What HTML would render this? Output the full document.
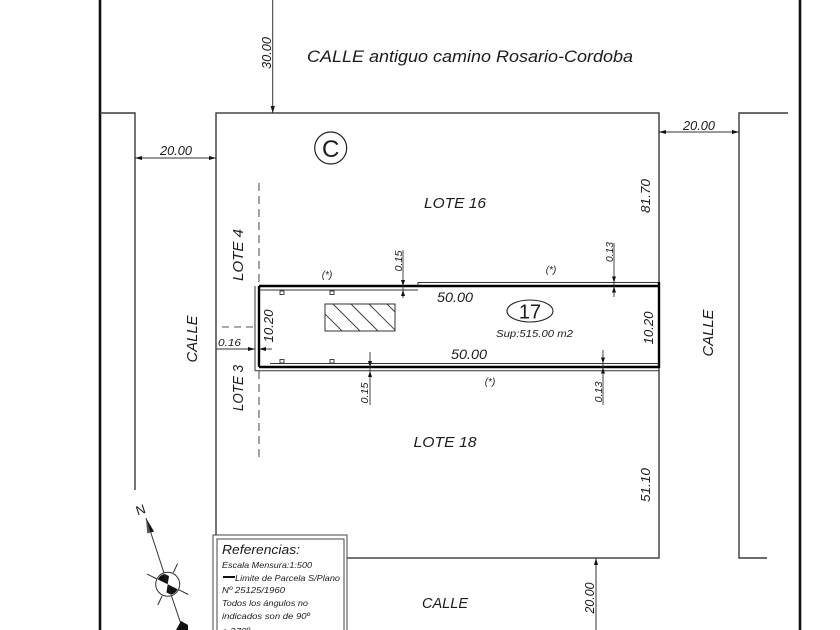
<!DOCTYPE html>
<html>
<head>
<meta charset="utf-8">
<style>
  html,body{margin:0;padding:0;background:#fff;}
  svg{display:block;}
  text{font-family:"Liberation Sans",sans-serif;font-style:italic;fill:#1c1c1c;}
</style>
</head>
<body>
<svg width="840" height="630" viewBox="0 0 840 630" xmlns="http://www.w3.org/2000/svg">
  <defs>
    <clipPath id="hc"><rect x="325" y="304" width="70" height="27"/></clipPath>
  </defs>
  <rect width="840" height="630" fill="#fff"/>

  <!-- outer thick street lines -->
  <line x1="100" y1="0" x2="100" y2="630" stroke="#111" stroke-width="2.6"/>
  <line x1="800" y1="0" x2="800" y2="630" stroke="#111" stroke-width="2.6"/>

  <!-- left block -->
  <polyline points="100,113 135,113 135,490" fill="none" stroke="#3a3a3a" stroke-width="1.4"/>
  <!-- right block -->
  <polyline points="788,113 739,113 739,558 767,558" fill="none" stroke="#3a3a3a" stroke-width="1.4"/>
  <!-- main block -->
  <rect x="216" y="113" width="443" height="445" fill="none" stroke="#3a3a3a" stroke-width="1.4"/>

  <!-- title -->
  <text x="307" y="62" font-size="17" textLength="326" lengthAdjust="spacingAndGlyphs">CALLE  antiguo camino Rosario-Cordoba</text>

  <!-- 30.00 dim -->
  <line x1="272.7" y1="0" x2="272.7" y2="113" stroke="#333" stroke-width="1"/>
  <polygon points="272.7,113 270.6,106 274.8,106" fill="#111"/>
  <text transform="translate(271,53) rotate(-90)" font-size="12.5" text-anchor="middle" textLength="32" lengthAdjust="spacingAndGlyphs">30.00</text>

  <!-- 20.00 left -->
  <line x1="135" y1="158" x2="216" y2="158" stroke="#333" stroke-width="1"/>
  <polygon points="135,158 142,156 142,160" fill="#111"/>
  <polygon points="216,158 209,156 209,160" fill="#111"/>
  <text x="176" y="155" font-size="13" text-anchor="middle" textLength="32" lengthAdjust="spacingAndGlyphs">20.00</text>

  <!-- 20.00 right -->
  <line x1="659" y1="132" x2="739" y2="132" stroke="#333" stroke-width="1"/>
  <polygon points="659,132 666,130 666,134" fill="#111"/>
  <polygon points="739,132 732,130 732,134" fill="#111"/>
  <text x="699" y="130" font-size="13" text-anchor="middle" textLength="32" lengthAdjust="spacingAndGlyphs">20.00</text>

  <!-- 81.70 / 51.10 -->
  <text transform="translate(650,196) rotate(-90)" font-size="13" text-anchor="middle" textLength="34" lengthAdjust="spacingAndGlyphs">81.70</text>
  <text transform="translate(650,485) rotate(-90)" font-size="13" text-anchor="middle" textLength="34" lengthAdjust="spacingAndGlyphs">51.10</text>

  <!-- 20.00 bottom -->
  <line x1="596" y1="558" x2="596" y2="630" stroke="#333" stroke-width="1"/>
  <polygon points="596,558 594,565 598,565" fill="#111"/>
  <text transform="translate(594,598) rotate(-90)" font-size="12.5" text-anchor="middle" textLength="31" lengthAdjust="spacingAndGlyphs">20.00</text>

  <!-- C circle -->
  <circle cx="330.7" cy="148" r="16" fill="none" stroke="#222" stroke-width="1.2"/>
  <text x="330.7" y="157" font-size="24" text-anchor="middle" style="font-style:normal">C</text>

  <!-- lot labels -->
  <text x="455" y="208" font-size="15" text-anchor="middle" textLength="62" lengthAdjust="spacingAndGlyphs">LOTE 16</text>
  <text x="445" y="447" font-size="15" text-anchor="middle" textLength="63" lengthAdjust="spacingAndGlyphs">LOTE 18</text>
  <text x="445" y="608" font-size="15" text-anchor="middle" textLength="46" lengthAdjust="spacingAndGlyphs">CALLE</text>
  <text transform="translate(197,339) rotate(-90)" font-size="15" text-anchor="middle" textLength="47" lengthAdjust="spacingAndGlyphs">CALLE</text>
  <text transform="translate(713,333) rotate(-90)" font-size="15" text-anchor="middle" textLength="47" lengthAdjust="spacingAndGlyphs">CALLE</text>
  <text transform="translate(243,255) rotate(-90)" font-size="15" text-anchor="middle" textLength="52" lengthAdjust="spacingAndGlyphs">LOTE 4</text>
  <text transform="translate(243,388) rotate(-90)" font-size="15" text-anchor="middle" textLength="46" lengthAdjust="spacingAndGlyphs">LOTE 3</text>

  <!-- dashed lot lines -->
  <line x1="259" y1="183" x2="259" y2="286" stroke="#444" stroke-width="1" stroke-dasharray="8,5"/>
  <line x1="259" y1="371" x2="259" y2="462" stroke="#444" stroke-width="1" stroke-dasharray="8,5"/>
  <line x1="222" y1="327" x2="255" y2="327" stroke="#555" stroke-width="1" stroke-dasharray="7,5"/>

  <!-- parcel 17 -->
  <line x1="259" y1="286" x2="659" y2="286" stroke="#000" stroke-width="2.4"/>
  <line x1="259" y1="290" x2="418" y2="290" stroke="#333" stroke-width="1"/>
  <polyline points="418,286 418,282.5 659,282.5" fill="none" stroke="#333" stroke-width="1"/>
  <line x1="259" y1="367" x2="659" y2="367" stroke="#000" stroke-width="2.4"/>
  <line x1="270" y1="363.5" x2="659" y2="363.5" stroke="#333" stroke-width="0.9"/>
  <line x1="255" y1="370.7" x2="659" y2="370.7" stroke="#333" stroke-width="1"/>
  <line x1="259" y1="286" x2="259" y2="367" stroke="#000" stroke-width="2.4"/>
  <line x1="255" y1="286" x2="255" y2="371" stroke="#333" stroke-width="1"/>
  <line x1="659" y1="282" x2="659" y2="368" stroke="#000" stroke-width="2.4"/>

  <!-- small markers -->
  <rect x="280" y="291" width="4" height="3.5" fill="none" stroke="#333" stroke-width="0.9"/>
  <rect x="330" y="291" width="4" height="3.5" fill="none" stroke="#333" stroke-width="0.9"/>
  <rect x="280" y="359.5" width="4" height="3.5" fill="none" stroke="#333" stroke-width="0.9"/>
  <rect x="330" y="359.5" width="4" height="3.5" fill="none" stroke="#333" stroke-width="0.9"/>

  <!-- hatched building -->
  <rect x="325" y="304" width="70" height="27" fill="none" stroke="#333" stroke-width="1"/>
  <g clip-path="url(#hc)" stroke="#333" stroke-width="0.9">
    <line x1="315" y1="304" x2="342" y2="331"/>
    <line x1="333" y1="304" x2="360" y2="331"/>
    <line x1="351" y1="304" x2="378" y2="331"/>
    <line x1="369" y1="304" x2="396" y2="331"/>
    <line x1="387" y1="304" x2="414" y2="331"/>
  </g>

  <!-- 0.16 dim -->
  <line x1="216" y1="349" x2="255" y2="349" stroke="#333" stroke-width="0.9"/>
  <polygon points="255,349 248,347 248,351" fill="#111"/>
  <line x1="259" y1="349" x2="272" y2="349" stroke="#333" stroke-width="0.9"/>
  <polygon points="259,349 266,347 266,351" fill="#111"/>
  <text x="229.5" y="346" font-size="10.5" text-anchor="middle" textLength="23" lengthAdjust="spacingAndGlyphs">0.16</text>

  <!-- 10.20 -->
  <text transform="translate(273,326) rotate(-90)" font-size="13" text-anchor="middle" textLength="33" lengthAdjust="spacingAndGlyphs">10.20</text>
  <text transform="translate(653,328) rotate(-90)" font-size="13" text-anchor="middle" textLength="33" lengthAdjust="spacingAndGlyphs">10.20</text>

  <!-- 0.15 top -->
  <line x1="403" y1="250" x2="403" y2="298" stroke="#333" stroke-width="0.9"/>
  <polygon points="403,286 401,280 405,280" fill="#111"/>
  <polygon points="403,290 401,296 405,296" fill="#111"/>
  <text transform="translate(402,261) rotate(-90)" font-size="10.5" text-anchor="middle" textLength="21" lengthAdjust="spacingAndGlyphs">0.15</text>

  <!-- 0.15 bottom -->
  <line x1="370" y1="352" x2="370" y2="405" stroke="#333" stroke-width="0.9"/>
  <polygon points="370,367 368,361 372,361" fill="#111"/>
  <polygon points="370,371 368,377 372,377" fill="#111"/>
  <text transform="translate(368,393) rotate(-90)" font-size="10.5" text-anchor="middle" textLength="21" lengthAdjust="spacingAndGlyphs">0.15</text>

  <!-- 0.13 top -->
  <line x1="614" y1="243" x2="614" y2="297" stroke="#333" stroke-width="0.9"/>
  <polygon points="614,282.5 612,276.5 616,276.5" fill="#111"/>
  <polygon points="614,286.5 612,292.5 616,292.5" fill="#111"/>
  <text transform="translate(613,252) rotate(-90)" font-size="10.5" text-anchor="middle" textLength="20" lengthAdjust="spacingAndGlyphs">0.13</text>

  <!-- 0.13 bottom -->
  <line x1="603" y1="350" x2="603" y2="405" stroke="#333" stroke-width="0.9"/>
  <polygon points="603,363.5 601,357.5 605,357.5" fill="#111"/>
  <polygon points="603,367.5 601,373.5 605,373.5" fill="#111"/>
  <text transform="translate(602,392) rotate(-90)" font-size="10.5" text-anchor="middle" textLength="21" lengthAdjust="spacingAndGlyphs">0.13</text>

  <!-- (*) -->
  <text x="327" y="278" font-size="10" text-anchor="middle">(*)</text>
  <text x="551" y="273" font-size="10" text-anchor="middle">(*)</text>
  <text x="490" y="385" font-size="10" text-anchor="middle">(*)</text>

  <!-- 50.00 -->
  <text x="455" y="302" font-size="13.5" text-anchor="middle" textLength="36" lengthAdjust="spacingAndGlyphs">50.00</text>
  <text x="469" y="359" font-size="13.5" text-anchor="middle" textLength="36" lengthAdjust="spacingAndGlyphs">50.00</text>

  <!-- 17 -->
  <ellipse cx="530" cy="311" rx="23" ry="11" fill="none" stroke="#222" stroke-width="1.1"/>
  <text x="530" y="318.5" font-size="20" text-anchor="middle" style="font-style:normal">17</text>
  <text x="534.5" y="337" font-size="10.5" text-anchor="middle" textLength="77" lengthAdjust="spacingAndGlyphs">Sup:515.00 m2</text>

  <!-- north arrow -->
  <text transform="translate(142,514) rotate(-18)" font-size="13" text-anchor="middle" style="font-style:normal" fill="#444">N</text>
  <line x1="146" y1="518" x2="164" y2="573" stroke="#333" stroke-width="1"/>
  <line x1="171.5" y1="596" x2="183" y2="630" stroke="#333" stroke-width="1"/>
  <polygon points="146,518 154,531.5 150.5,532.5" fill="#111"/>
  <polygon points="146,518 150.5,532.5 147.2,533.5" fill="#555"/>
  <circle cx="167.7" cy="584.3" r="12" fill="#fff" stroke="#333" stroke-width="1"/>
  <path d="M167.7,584.3 L157.8,579.4 A11,11 0 0,1 164.3,573.9 Z" fill="#111"/>
  <path d="M167.7,584.3 L177.6,589.2 A11,11 0 0,1 171.1,594.7 Z" fill="#111"/>
  <path d="M167.7,584.3 L164.3,573.9 L169,576 Z" fill="#111"/>
  <path d="M167.7,584.3 L171.1,594.7 L166.5,592.5 Z" fill="#111"/>
  <line x1="147.1" y1="574.1" x2="157" y2="579" stroke="#333" stroke-width="1"/>
  <line x1="178.4" y1="589.6" x2="188.3" y2="594.5" stroke="#333" stroke-width="1"/>
  <line x1="177.6" y1="563.5" x2="173.3" y2="572.6" stroke="#333" stroke-width="1"/>
  <line x1="162.1" y1="596" x2="157.8" y2="605" stroke="#333" stroke-width="1"/>
  <path d="M176,630 L181,621 L188,625 L188,630 Z" fill="#111"/>

  <!-- legend -->
  <rect x="213" y="535" width="134" height="110" fill="#fff" stroke="#444" stroke-width="1"/>
  <rect x="217" y="539" width="127" height="110" fill="#fff" stroke="#444" stroke-width="1"/>
  <text x="222" y="554" font-size="13" textLength="78" lengthAdjust="spacingAndGlyphs">Referencias:</text>
  <text x="222" y="568" font-size="8.5" textLength="90" lengthAdjust="spacingAndGlyphs">Escala Mensura:1:500</text>
  <line x1="223" y1="577" x2="235" y2="577" stroke="#111" stroke-width="2"/>
  <text x="235" y="581" font-size="8.5" textLength="105" lengthAdjust="spacingAndGlyphs">Limite de Parcela S/Plano</text>
  <text x="222" y="593" font-size="8.5" textLength="63" lengthAdjust="spacingAndGlyphs">Nº 25125/1960</text>
  <text x="222" y="606" font-size="8.5" textLength="86" lengthAdjust="spacingAndGlyphs">Todos los ángulos no</text>
  <text x="222" y="619" font-size="8.5" textLength="88" lengthAdjust="spacingAndGlyphs">indicados son de 90º</text>
  <text x="222" y="634" font-size="8.5" textLength="28" lengthAdjust="spacingAndGlyphs">o 270º</text>
</svg>
</body>
</html>
